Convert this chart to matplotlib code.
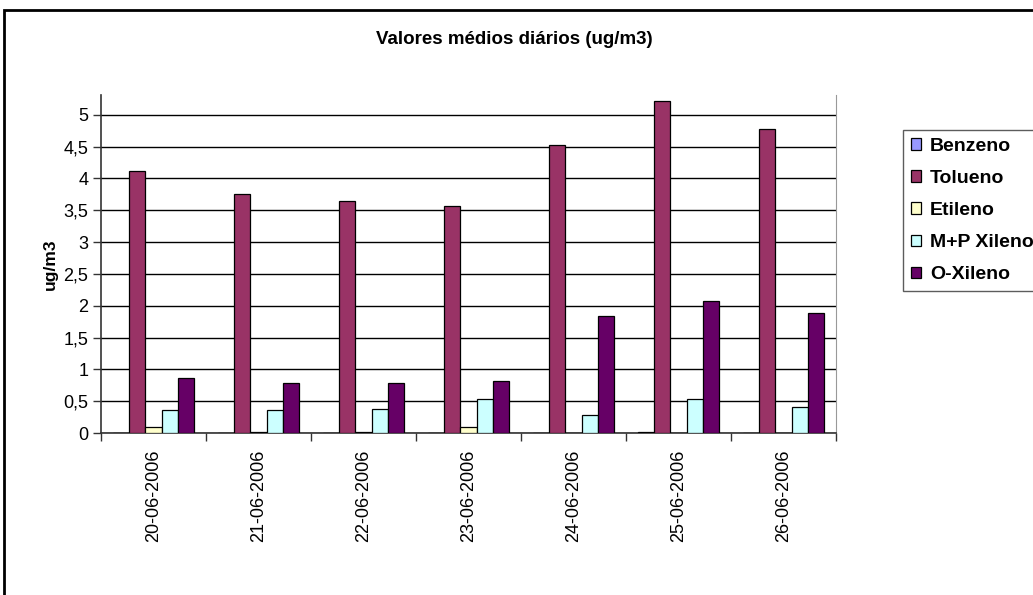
import matplotlib.pyplot as plt
import numpy as np
from matplotlib.patches import Rectangle

plt.rcParams['font.family'] = ['Liberation Sans', 'DejaVu Sans']

dates = ['20-06-2006', '21-06-2006', '22-06-2006', '23-06-2006',
         '24-06-2006', '25-06-2006', '26-06-2006']
benzeno = [0, 0, 0, 0, 0, 0.02, 0]
tolueno = [4.11, 3.76, 3.64, 3.57, 4.53, 5.21, 4.77]
etileno = [0.09, 0.02, 0.02, 0.09, 0, 0, 0]
mp_xileno = [0.36, 0.36, 0.38, 0.54, 0.29, 0.53, 0.41]
o_xileno = [0.87, 0.78, 0.78, 0.82, 1.84, 2.07, 1.89]
y_ticks = [0, 0.5, 1, 1.5, 2, 2.5, 3, 3.5, 4, 4.5, 5]
y_labels = ['0', '0,5', '1', '1,5', '2', '2,5', '3', '3,5', '4', '4,5', '5']

series = [('Benzeno', benzeno, '#9999FF'),
          ('Tolueno', tolueno, '#993366'),
          ('Etileno', etileno, '#FFFFCC'),
          ('M+P Xileno', mp_xileno, '#CCFFFF'),
          ('O-Xileno', o_xileno, '#660066')]

fig = plt.figure(figsize=(10.33, 5.95), dpi=100)
ax = fig.add_axes([101 / 1033, 1 - 433 / 595, 735 / 1033, 338 / 595])

x = np.arange(len(dates))
w = 1 / 6.5
for k, (name, vals, color) in enumerate(series):
    ax.bar(x + (k - 2) * w, vals, width=w, color=color, edgecolor='black',
           linewidth=0.9, label=name, zorder=3)

ax.set_xlim(-0.5, len(dates) - 0.5)
ax.set_ylim(0, 5.31)
ax.set_yticks(y_ticks)
ax.set_yticklabels(y_labels, fontsize=13)
ax.yaxis.grid(True, color='black', linewidth=1, zorder=0)

# category labels in the middle, tick marks on the boundaries
ax.set_xticks(np.arange(len(dates) + 1) - 0.5)
ax.set_xticklabels([])
ax.set_xticks(x, minor=True)
ax.set_xticklabels(dates, minor=True, rotation=90, fontsize=13)
ax.tick_params(axis='x', which='minor', length=0, pad=12)
ax.tick_params(axis='x', which='major', length=6, width=1, color='#333333')
ax.tick_params(axis='y', length=6, width=1, color='#333333', pad=3)

ax.spines['top'].set_visible(False)
ax.spines['right'].set_color('#999999')
ax.spines['left'].set_color('#333333')
ax.spines['bottom'].set_color('#333333')
ax.spines['left'].set_linewidth(1.2)
ax.spines['bottom'].set_linewidth(1.2)

ax.set_ylabel('ug/m3', fontsize=12.5, fontweight='bold', labelpad=4)
fig.text(514 / 1033, 1 - 40 / 595, 'Valores médios diários (ug/m3)',
         ha='center', va='center', fontsize=13.5, fontweight='bold')

leg = fig.legend(loc='upper left', bbox_to_anchor=(903 / 1033, 1 - 130 / 595),
                 prop={'weight': 'bold', 'size': 14},
                 frameon=True, fancybox=False, edgecolor='#333333',
                 borderaxespad=0, borderpad=0.4, handlelength=0.55,
                 handleheight=0.55, handletextpad=0.45, labelspacing=0.78)
leg.get_frame().set_linewidth(1)

# chart area border
fig.patches.append(Rectangle((4 / 1033, -0.1), 1.2, 1 - 10 / 595 + 0.1,
                             transform=fig.transFigure, fill=False,
                             edgecolor='black', linewidth=2))

fig.savefig('out.png', dpi=100)
